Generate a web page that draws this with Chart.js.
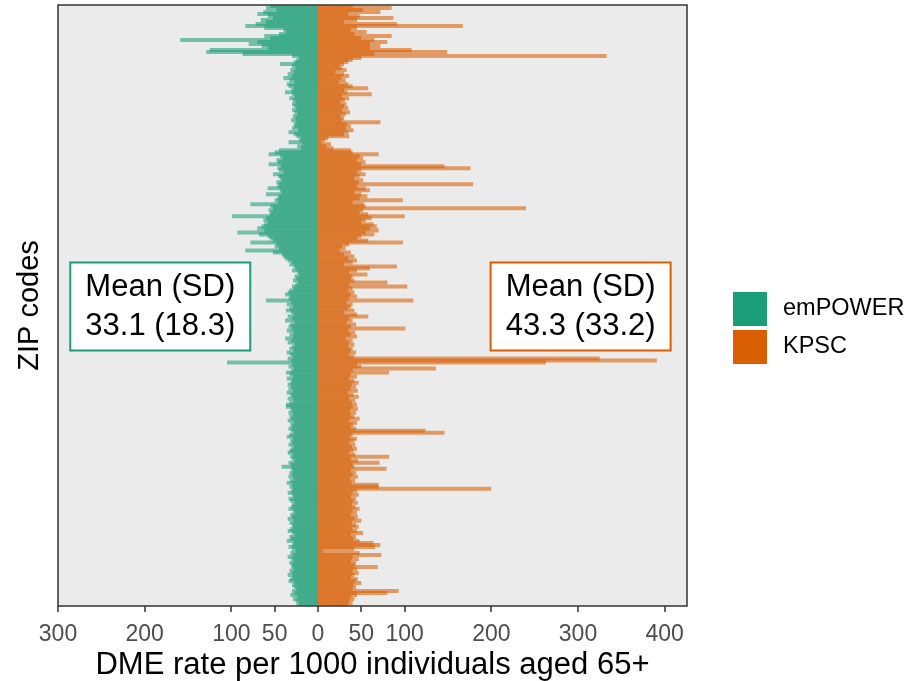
<!DOCTYPE html>
<html>
<head>
<meta charset="utf-8">
<title>DME rate per ZIP code</title>
<script src="https://cdn.jsdelivr.net/npm/chart.js@4.4.1/dist/chart.umd.min.js"></script>
<style>
    html, body { margin: 0; padding: 0; background: #ffffff; }
    #wrap { width: 912px; height: 681px; }
</style>
</head>
<body>
<div id="wrap"><canvas id="chart" width="912" height="681"></canvas></div>
<script>
// emPOWER rate per ZIP code (plotted to the left), top row first
const empowerRates = [
    55, 60, 48, 63, 70, 58, 52, 66, 60, 72,
    84, 62, 40, 37, 45, 62, 55, 159, 70, 80,
    65, 58, 125, 129, 87, 30, 22, 25, 28, 44,
    30, 26, 32, 28, 35, 30, 40, 33, 27, 36,
    34, 28, 31, 38, 30, 27, 33, 29, 26, 30,
    28, 25, 30, 27, 24, 29, 26, 31, 25, 28,
    27, 30, 23, 34, 28, 25, 20, 22, 34, 18,
    24, 20, 45, 50, 57, 44, 41, 48, 46, 57,
    43, 47, 45, 40, 52, 46, 44, 42, 48, 45,
    47, 58, 44, 42, 60, 45, 47, 50, 46, 78,
    55, 52, 57, 54, 56, 99, 60, 63, 58, 62,
    65, 70, 62, 93, 68, 58, 55, 52, 78, 48,
    50, 45, 84, 52, 42, 40, 38, 35, 30, 33,
    28, 26, 30, 24, 22, 27, 25, 29, 23, 26,
    30, 28, 33, 35, 38, 32, 34, 60, 31, 36,
    29, 33, 37, 31, 28, 35, 30, 38, 27, 32,
    34, 30, 36, 28, 33, 29, 38, 31, 35, 27,
    30, 33, 28, 36, 32, 29, 35, 31, 105, 30,
    34, 28, 31, 37, 33, 29, 36, 30, 32, 35,
    31, 34, 29, 36, 32, 30, 35, 28, 33, 37,
    37, 32, 30, 34, 29, 33, 31, 35, 28, 32,
    30, 34, 31, 28, 33, 36, 29, 32, 30, 34,
    28, 31, 33, 35, 29, 32, 30, 27, 34, 31,
    42, 31, 29, 33, 30, 34, 28, 32, 36, 30,
    33, 29, 31, 35, 30, 28, 34, 32, 27, 30,
    31, 34, 29, 27, 32, 30, 35, 28, 33, 30,
    29, 32, 35, 30, 27, 33, 31, 36, 28, 30,
    34, 30, 26, 32, 29, 35, 31, 28, 33, 30,
    31, 28, 33, 30, 35, 29, 32, 34, 27, 30,
    28, 25, 30, 27, 32, 24, 29, 26, 22, 25
];

// KPSC rate per ZIP code (plotted to the right), same row order
const kpscRates = [
    40, 85, 52, 72, 35, 48, 87, 45, 30, 91,
    167, 45, 38, 56, 42, 85, 50, 65, 80, 60,
    72, 60, 108, 149, 65, 333, 50, 40, 35, 30,
    25, 28, 33, 20, 30, 36, 27, 32, 24, 35,
    40, 58, 30, 34, 62, 28, 36, 31, 26, 33,
    30, 35, 28, 37, 32, 26, 30, 28, 72, 34,
    38, 32, 41, 35, 30, 36, 12, 8, 4, 15,
    10, 18, 38, 40, 70, 48, 52, 45, 55, 50,
    146, 176, 50, 45, 55, 48, 42, 52, 47, 179,
    45, 55, 60, 42, 50, 57, 48, 98, 40, 53,
    55, 240, 52, 48, 58, 100, 62, 55, 50, 64,
    68, 60, 70, 55, 65, 50, 45, 58, 98, 36,
    28, 32, 25, 38, 30, 42, 35, 45, 40, 30,
    91, 60, 45, 36, 57, 40, 38, 42, 80, 36,
    103, 40, 35, 42, 38, 45, 36, 110, 33, 40,
    38, 35, 42, 30, 45, 58, 36, 40, 33, 44,
    38, 101, 35, 43, 38, 45, 32, 40, 36, 42,
    35, 40, 38, 44, 36, 42, 325, 391, 263, 45,
    50, 136, 40, 82, 38, 45, 36, 42, 47, 39,
    44, 38, 46, 35, 41, 47, 36, 43, 39, 45,
    40, 46, 37, 44, 38, 42, 48, 36, 45, 41,
    38, 44, 124, 146, 40, 37, 45, 42, 36, 43,
    39, 45, 41, 36, 43, 82, 38, 46, 71, 40,
    42, 79, 38, 44, 40, 46, 37, 43, 39, 70,
    70, 200, 45, 40, 47, 38, 44, 41, 46, 39,
    43, 48, 40, 45, 38, 46, 42, 50, 39, 44,
    47, 40, 45, 52, 38, 44, 41, 48, 64, 72,
    66, 42, 6, 48, 73, 40, 47, 38, 44, 42,
    69, 45, 40, 47, 42, 38, 46, 43, 50, 41,
    44, 40, 93, 80, 45, 38, 42, 36, 40, 35
];

// ZIP code rows (labels are not shown on the axis)
const zipCodes = empowerRates.map((_, i) => 'ZIP ' + (i + 1));

// Tick positions on the rate axis (left side shown as positive numbers)
const rateTicks = [-300, -200, -100, -50, 0, 50, 100, 200, 300, 400];

// Summary boxes: [label, mean, sd, centre on the rate axis]
const summaryText = [
    ['emPOWER', '33.1', '18.3', -182],
    ['KPSC', '43.3', '33.2', 303]
];

const seriesNames = ['emPOWER', 'KPSC'];
const seriesColors = ['#1B9E77', '#D95F02'];
const seriesFills = ['rgba(27, 158, 119, 0.58)', 'rgba(217, 95, 2, 0.58)'];

const FONT = '"Liberation Sans", Arial, Helvetica, sans-serif';
Chart.defaults.font.family = FONT;

// Panel background, border, summary boxes and legend
const panelPlugin = {
    id: 'panel',
    beforeDraw(chart) {
        const { ctx, chartArea: a } = chart;
        ctx.save();
        ctx.fillStyle = '#ffffff';
        ctx.fillRect(0, 0, chart.width, chart.height);
        ctx.fillStyle = '#EBEBEB';
        ctx.fillRect(a.left, a.top, a.right - a.left, a.bottom - a.top);
        ctx.restore();
    },
    afterDraw(chart) {
        const { ctx, chartArea: a } = chart;
        const xScale = chart.scales.x;
        ctx.save();

        // panel border
        ctx.strokeStyle = '#333333';
        ctx.lineWidth = 1.5;
        ctx.strokeRect(a.left, a.top, a.right - a.left, a.bottom - a.top);

        // mean (SD) boxes
        const midY = (a.top + a.bottom) / 2 + 1;
        summaryText.forEach(([name, mean, sd, centre], i) => {
            const cx = xScale.getPixelForValue(centre);
            const w = 180, h = 88;
            ctx.fillStyle = '#ffffff';
            ctx.fillRect(cx - w / 2, midY - h / 2, w, h);
            ctx.strokeStyle = seriesColors[i];
            ctx.lineWidth = 2;
            ctx.strokeRect(cx - w / 2, midY - h / 2, w, h);
            ctx.fillStyle = '#000000';
            ctx.font = '31px ' + FONT;
            ctx.textAlign = 'center';
            ctx.textBaseline = 'middle';
            ctx.fillText('Mean (SD)', cx, midY - 19);
            ctx.fillText(mean + ' (' + sd + ')', cx, midY + 20);
        });

        // legend keys
        ctx.textAlign = 'left';
        ctx.textBaseline = 'middle';
        ctx.font = '23.5px ' + FONT;
        seriesNames.forEach((name, i) => {
            const top = 292 + i * 38;
            ctx.fillStyle = seriesColors[i];
            ctx.fillRect(733, top, 34, 34);
            ctx.fillStyle = '#000000';
            ctx.fillText(name, 783, top + 17);
        });
        ctx.restore();
    }
};

const ctx = document.getElementById('chart').getContext('2d');

const chart = new Chart(ctx, {
    type: 'bar',
    data: {
        labels: zipCodes,
        datasets: [
            {
                label: seriesNames[0],
                data: empowerRates.map(v => -v),
                backgroundColor: seriesFills[0],
                borderWidth: 0,
                inflateAmount: 0,
                barPercentage: 2,
                categoryPercentage: 1
            },
            {
                label: seriesNames[1],
                data: kpscRates,
                backgroundColor: seriesFills[1],
                borderWidth: 0,
                inflateAmount: 0,
                barPercentage: 2,
                categoryPercentage: 1
            }
        ]
    },
    options: {
        indexAxis: 'y',
        responsive: false,
        animation: false,
        layout: {
            padding: { left: 0, top: 5, right: 225, bottom: 0 }
        },
        plugins: {
            legend: { display: false },
            tooltip: { enabled: false },
            title: { display: false }
        },
        scales: {
            x: {
                type: 'linear',
                min: -300,
                max: 425.77,
                stacked: true,
                afterBuildTicks: (scale) => {
                    scale.ticks = rateTicks.map(v => ({ value: v }));
                },
                afterFit: (scale) => {
                    scale.height = 75;
                },
                ticks: {
                    autoSkip: false,
                    maxRotation: 0,
                    padding: 9,
                    color: '#4D4D4D',
                    font: { size: 23 },
                    callback: (value) => Math.abs(value)
                },
                grid: {
                    display: true,
                    drawOnChartArea: false,
                    drawTicks: true,
                    tickLength: 6,
                    // no grid line width, so bars meet at zero without a gap
                    lineWidth: 0,
                    tickWidth: 1.5,
                    tickColor: '#333333'
                },
                border: { display: false },
                title: {
                    display: true,
                    text: 'DME rate per 1000 individuals aged 65+',
                    color: '#000000',
                    font: { size: 31, lineHeight: 1 },
                    padding: { top: 0, bottom: 0 }
                }
            },
            y: {
                stacked: true,
                afterFit: (scale) => {
                    scale.width = 58;
                },
                ticks: { display: false },
                grid: { display: false },
                border: { display: false },
                title: {
                    display: true,
                    text: 'ZIP codes',
                    color: '#000000',
                    font: { size: 29 },
                    padding: { top: 13, bottom: 0 }
                }
            }
        }
    },
    plugins: [panelPlugin]
});
</script>
</body>
</html>
